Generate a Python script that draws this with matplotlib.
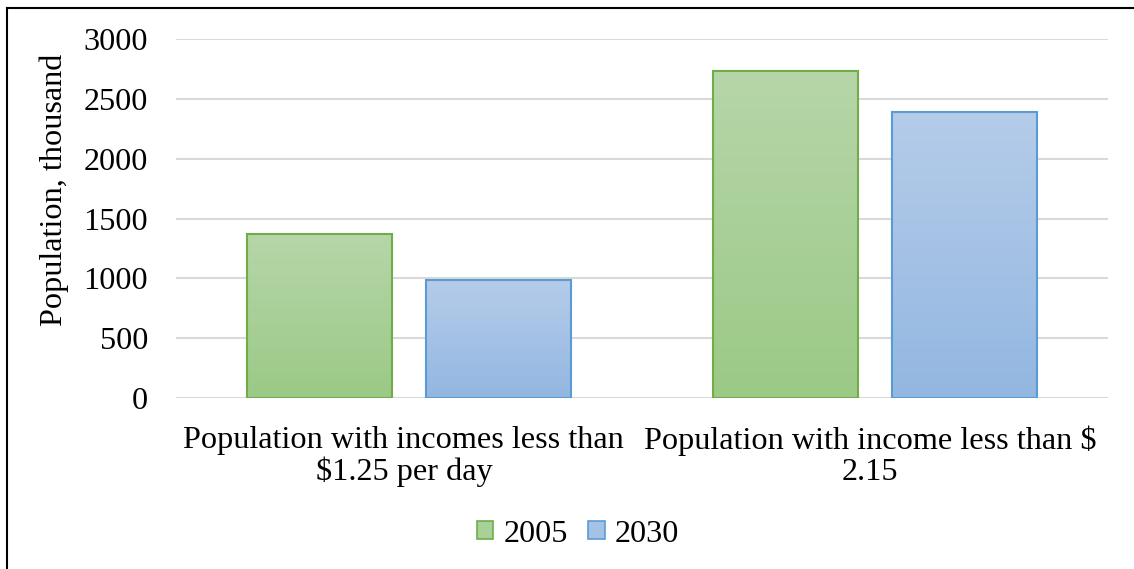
import matplotlib.pyplot as plt
import numpy as np
from matplotlib.colors import LinearSegmentedColormap, to_rgb
from matplotlib.patches import Patch
from matplotlib.lines import Line2D
from matplotlib.transforms import blended_transform_factory

plt.rcParams['font.family'] = ['Liberation Serif', 'DejaVu Serif']

categories = ['Population with incomes less than\n$1.25 per day',
              'Population with income less than $\n2.15']
years = ['2005', '2030']
values_2005 = [1371, 2732]
values_2030 = [986, 2389]

edge_colors = ['#70ad47', '#5b9bd5']
grad_colors = [('#b6d6a9', '#9bc986'), ('#b5cce9', '#93b7e1')]
fs = 23.2

W, H = 1134, 569
fig = plt.figure(figsize=(W / 100, H / 100), dpi=100)
ax = fig.add_axes([176 / W, 1 - 398 / H, 932 / W, 359 / H])

x = np.arange(len(categories))
width = 0.311
offset = 0.192

for i, (vals, ec, (top_c, bot_c)) in enumerate(zip([values_2005, values_2030], edge_colors, grad_colors)):
    pos = x + (i * 2 - 1) * offset
    bars = ax.bar(pos, vals, width, facecolor='none', edgecolor=ec, linewidth=1.5, zorder=3)
    cmap = LinearSegmentedColormap.from_list('g%d' % i, [bot_c, top_c])
    grad = np.linspace(0, 1, 256).reshape(-1, 1)
    for b in bars:
        x0 = b.get_x()
        w, h = b.get_width(), b.get_height()
        # vertical gradient, clipped to the bar outline
        im = ax.imshow(grad, cmap=cmap, aspect='auto', origin='lower',
                       extent=[x0, x0 + w, 0, h], zorder=2, interpolation='bilinear')
        im.set_clip_path(b)

ax.set_xlim(-0.5, 1.5)
ax.set_ylim(0, 3000)
ax.set_yticks(np.arange(0, 3001, 500))
ax.yaxis.grid(True, color='#d9d9d9', linewidth=1.5)
ax.set_axisbelow(True)
for s in ax.spines.values():
    s.set_visible(False)
ax.tick_params(axis='y', length=0, pad=20, labelsize=fs)
ax.set_xticks([])

# category labels, sitting slightly left of the group centres
trans = blended_transform_factory(ax.transData, fig.transFigure)
for xi, label in zip(x, categories):
    ax.text(xi - 0.011, 1 - 426 / H, label, transform=trans, ha='center', va='top',
            fontsize=fs, linespacing=1.05, multialignment='center')

ax.set_ylabel('Population, thousand', fontsize=fs)
ax.yaxis.set_label_coords((69 - 176) / 932, (398 - 190) / 359)

handles = [Patch(facecolor=np.mean([np.array(to_rgb(c)) for c in gc], axis=0),
                 edgecolor=ec, linewidth=1.2) for gc, ec in zip(grad_colors, edge_colors)]
fig.legend(handles, years, loc='center', bbox_to_anchor=(578 / W, 1 - 534 / H),
           ncol=2, frameon=False, fontsize=fs, handlelength=0.5, handleheight=0.5,
           handletextpad=0.3, columnspacing=0.65)

# outer frame (left and top edges)
fig.add_artist(Line2D([6.5 / W, 6.5 / W], [0, 1 - 7.5 / H], color='black', linewidth=1.5))
fig.add_artist(Line2D([6.5 / W, 1], [1 - 7.5 / H, 1 - 7.5 / H], color='black', linewidth=1.5))

fig.savefig('out.png', dpi=100)
